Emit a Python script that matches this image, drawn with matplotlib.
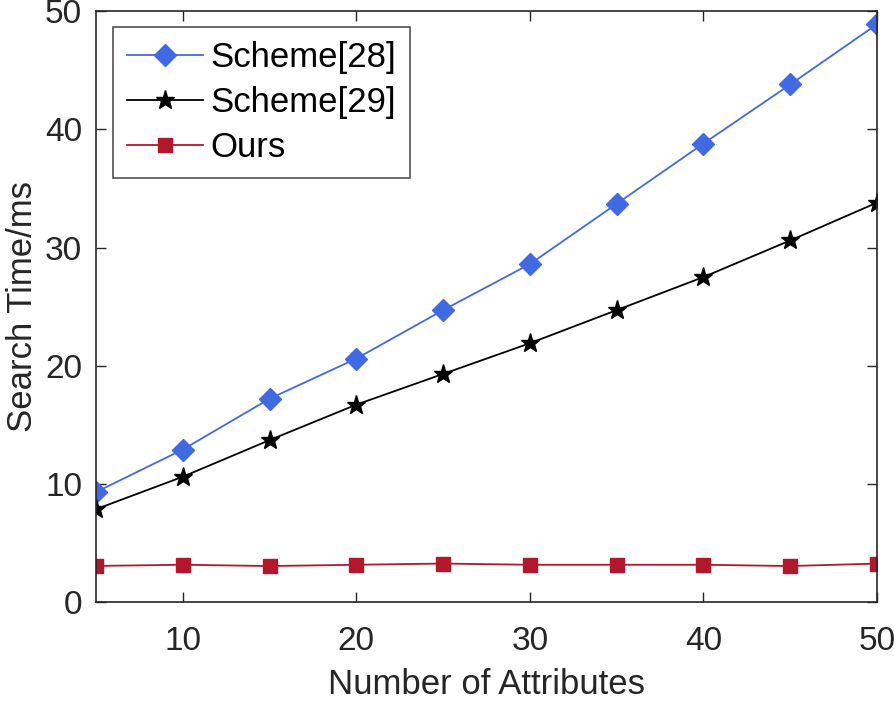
import matplotlib
matplotlib.use("Agg")
import matplotlib.pyplot as plt

plt.rcParams['font.family'] = ['Liberation Sans', 'DejaVu Sans']

attributes = [5, 10, 15, 20, 25, 30, 35, 40, 45, 50]
scheme28 = [9.3, 12.9, 17.2, 20.6, 24.7, 28.6, 33.7, 38.8, 43.8, 48.9]
scheme29 = [7.85, 10.6, 13.7, 16.7, 19.3, 21.9, 24.7, 27.5, 30.6, 33.8]
ours = [3.05, 3.15, 3.04, 3.15, 3.25, 3.15, 3.15, 3.15, 3.04, 3.25]

fig = plt.figure(figsize=(8.94, 7.02), dpi=100)
ax = fig.add_axes([0.1074, 0.1425, 0.8736, 0.8415])

ax.plot(attributes, scheme28, color='#4169e1', marker='D', markersize=11, lw=1.3, label='Scheme[28]')
ax.plot(attributes, scheme29, color='black', marker='*', markersize=14, lw=1.3, label='Scheme[29]')
ax.plot(attributes, ours, color='#b2182b', marker='s', markersize=10, lw=1.3, label='Ours')

ax.set_xlim(5, 50)
ax.set_ylim(0, 50)
ax.set_xticks([10, 20, 30, 40, 50])
ax.set_yticks([0, 10, 20, 30, 40, 50])
ax.tick_params(direction='in', top=True, right=True, labelsize=24, length=7, width=1, colors='#262626')
ax.tick_params(axis='x', pad=17)
ax.tick_params(axis='y', pad=10)
for sp in ax.spines.values():
    sp.set_color('#262626')
    sp.set_linewidth(1.2)
ax.set_xlabel('Number of Attributes', fontsize=25, color='#262626', labelpad=8)
ax.set_ylabel('Search Time/ms', fontsize=25, color='#262626', labelpad=4)

leg = ax.legend(loc='upper left', fontsize=25, frameon=True, fancybox=False,
                edgecolor='#262626', handlelength=2.2, handletextpad=0.2,
                borderpad=0.4, labelspacing=0.35, borderaxespad=0,
                bbox_to_anchor=(0.022, 0.973))
leg.get_frame().set_linewidth(1.2)

fig.savefig('out.png', dpi=100)
